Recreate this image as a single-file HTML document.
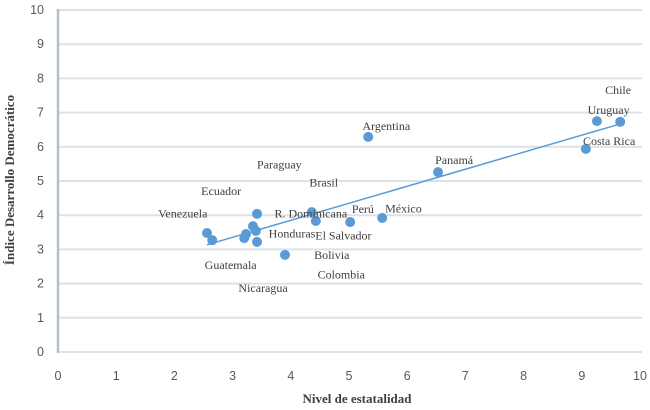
<!DOCTYPE html>
<html><head><meta charset="utf-8"><style>
body{margin:0;background:#fff;}
svg{display:block;}
.tk{font-family:"Liberation Sans",sans-serif;font-size:12.5px;fill:#595959;}
.lb{font-family:"Liberation Serif",serif;font-size:12px;fill:#404040;}
.at{font-family:"Liberation Serif",serif;font-size:13px;font-weight:bold;fill:#404040;}
</style></head><body>
<svg id="c" width="650" height="410">
<g id="grid"></g>
<g id="axes"></g>
<g id="trend"></g>
<g id="pts"></g>
<g id="labels"></g>
<text class="at" x="357" y="403" text-anchor="middle">Nivel de estatalidad</text>
<text class="at" transform="translate(14,180) rotate(-90)" text-anchor="middle">Índice Desarrollo Democrático</text>
</svg>
<script>
const xs=[2.56,2.65,3.20,3.23,3.35,3.40,3.42,3.42,3.90,4.36,4.43,5.02,5.57,5.33,6.53,9.07,9.26,9.66];
const ys=[3.48,3.27,3.33,3.45,3.68,3.54,4.04,3.22,2.84,4.09,3.83,3.80,3.92,6.29,5.26,5.94,6.75,6.73];
const xTicks=[0,1,2,3,4,5,6,7,8,9,10];
const yTicks=[0,1,2,3,4,5,6,7,8,9,10];
const labelNames=["Chile","Uruguay","Costa Rica","Argentina","Panamá","Paraguay","Brasil","Ecuador","Venezuela","R. Dominicana","Perú","México","Honduras","El Salvador","Guatemala","Bolivia","Colombia","Nicaragua"];
const labelX=[9.40,9.10,9.02,5.23,6.48,3.42,4.32,2.46,1.72,3.72,5.05,5.62,3.62,4.42,2.52,4.4,4.46,3.1];
const labelY=[7.66,7.08,6.17,6.61,5.62,5.48,4.95,4.71,4.05,4.05,4.18,4.2,3.46,3.41,2.55,2.84,2.26,1.87];
const X=v=>58+v*58.2, Y=v=>352-v*34.2;
const ns="http://www.w3.org/2000/svg";
function mk(p,t,a){const e=document.createElementNS(ns,t);for(const k in a)e.setAttribute(k,a[k]);p.appendChild(e);return e;}
const grid=document.getElementById('grid'),axes=document.getElementById('axes');
yTicks.forEach(v=>{
 if(v>0){const l=mk(grid,'line',{x1:58,x2:642,y1:Y(v),y2:Y(v),stroke:'#dde1e8','stroke-width':2});
 
 }
 const t=mk(axes,'text',{x:44,y:Y(v)+4,'text-anchor':'end',class:'tk'});t.textContent=v;
 
 
});
xTicks.forEach(v=>{
 const t=mk(axes,'text',{x:X(v),y:380,'text-anchor':'middle',class:'tk'});t.textContent=v;
 
 
});
const xl=mk(axes,'line',{x1:58,x2:642,y1:352,y2:352,stroke:'#dde1e8','stroke-width':2});


const yl=mk(axes,'line',{x1:58,x2:58,y1:9,y2:353,stroke:'#b4bfcc','stroke-width':2.5});


const n=xs.length,mx=xs.reduce((a,b)=>a+b)/n,my=ys.reduce((a,b)=>a+b)/n;
let sxy=0,sxx=0;xs.forEach((x,i)=>{sxy+=(x-mx)*(ys[i]-my);sxx+=(x-mx)**2;});
const b=sxy/sxx,a=my-b*mx,x0=Math.min(...xs),x1=Math.max(...xs);
const tl=mk(document.getElementById('trend'),'line',{x1:X(x0),y1:Y(a+b*x0),x2:X(x1),y2:Y(a+b*x1),stroke:'#5b9bd5','stroke-width':1.5});


const pts=document.getElementById('pts');
xs.forEach((x,i)=>{const c=mk(pts,'circle',{cx:X(x),cy:Y(ys[i]),r:5,fill:'#5b9bd5'});
 
 });
const lg=document.getElementById('labels');
labelNames.forEach((s,i)=>{const t=mk(lg,'text',{x:X(labelX[i]),y:Y(labelY[i])+4,class:'lb'});t.textContent=s;
 
 });
</script>
</body></html>
